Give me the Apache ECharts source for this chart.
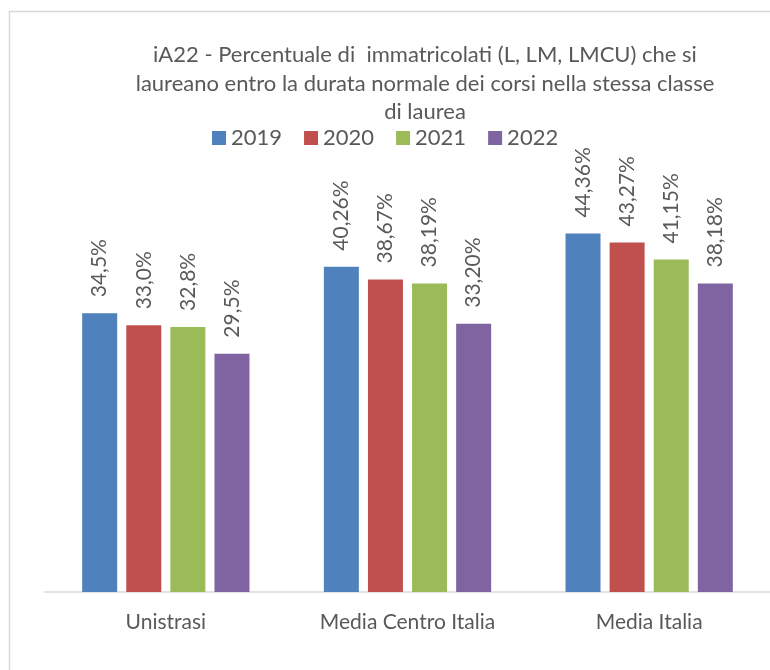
<!DOCTYPE html>
<html>
<head>
<meta charset="utf-8">
<script src="https://cdn.jsdelivr.net/npm/echarts@6/dist/echarts.min.js"></script>
<style>html,body{margin:0;padding:0;background:#fff}#c{width:770px;height:670px}</style>
</head>
<body>
<div id="c"></div>
<script>
const categories = ['Unistrasi', 'Media Centro Italia', 'Media Italia'];
const years = ['2019', '2020', '2021', '2022'];
const values2019 = [34.5, 40.26, 44.36];
const values2020 = [33.0, 38.67, 43.27];
const values2021 = [32.8, 38.19, 41.15];
const values2022 = [29.5, 33.20, 38.18];
const colors = ['#4F81BD', '#C0504D', '#9BBB59', '#8064A2'];
const titleText = 'iA22 - Percentuale di  immatricolati (L, LM, LMCU) che si\nlaureano entro la durata normale dei corsi nella stessa classe\ndi laurea';

const FONT = 'Lato';
const allValues = [values2019, values2020, values2021, values2022];

const chart = echarts.init(document.getElementById('c'));
chart.setOption({
  animation: false,
  color: colors,
  graphic: [
    { type: 'rect', shape: { x: 9.5, y: 11.5, width: 840, height: 700 }, style: { fill: 'none', stroke: '#d9d9d9', lineWidth: 1.5 }, z: 0 }
  ],
  title: {
    text: titleText,
    left: 420,
    top: 36,
    textAlign: 'center',
    textStyle: { fontFamily: FONT, fontSize: 22, fontWeight: 'normal', color: '#595959', lineHeight: 28.5 }
  },
  legend: {
    left: 207,
    top: 122,
    itemWidth: 14,
    itemHeight: 14,
    itemGap: 22,
    icon: 'rect',
    data: years,
    textStyle: { fontFamily: FONT, fontSize: 22, color: '#595959' }
  },
  grid: { left: 45, top: 188, width: 726, height: 404 },
  xAxis: {
    type: 'category',
    data: categories,
    axisLine: { show: true, lineStyle: { color: '#d9d9d9', width: 1.5 } },
    axisTick: { show: false },
    axisLabel: { margin: 20, fontFamily: FONT, fontSize: 21, color: '#595959' }
  },
  yAxis: {
    type: 'value', min: 0, max: 50,
    show: false, splitLine: { show: false }
  },
  series: years.map((y, i) => ({
    name: y,
    type: 'bar',
    data: allValues[i],
    barWidth: 35,
    barGap: '26%',
    label: {
      show: true,
      position: 'top',
      rotate: 90,
      align: 'left',
      verticalAlign: 'middle',
      distance: 16,
      fontFamily: FONT,
      fontSize: 21,
      color: '#595959',
      formatter: p => (p.dataIndex === 0 ? p.value.toFixed(1) : p.value.toFixed(2)).replace('.', ',') + '%'
    }
  }))
});
</script>
</body>
</html>
